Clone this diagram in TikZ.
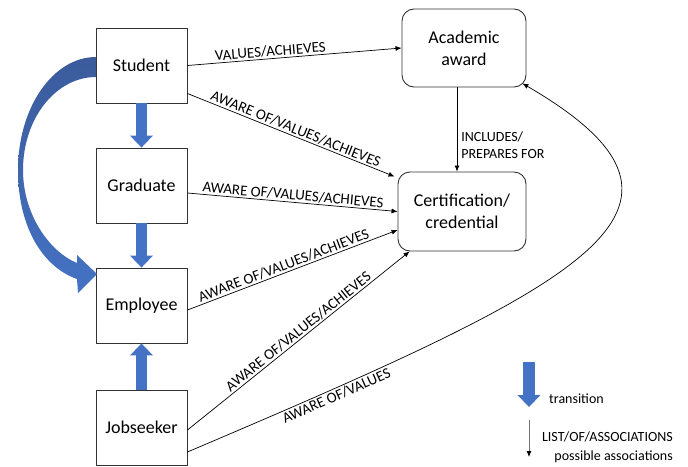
\documentclass[tikz,border=0pt]{standalone}
\usepackage{fontspec}
\setmainfont{Carlito}
\usetikzlibrary{arrows.meta,calc}
\definecolor{tblue}{HTML}{4472C4}
\definecolor{tdark}{HTML}{3B5B9B}
\begin{document}
\begin{tikzpicture}[x=1pt,y=-1pt,
 box/.style={draw=black!80, line width=0.9pt, minimum width=91pt, minimum height=75pt, font=\fontsize{18}{22}\selectfont, inner sep=0pt},
 rbox/.style={draw=black!80, line width=0.9pt, rounded corners=12pt, align=center, font=\fontsize{18}{22}\selectfont},
 assoc/.style={draw=black, line width=0.7pt, -{Latex[length=6pt,width=5pt]}},
 lbl/.style={font=\fontsize{15}{17}\selectfont, sloped, inner sep=1.5pt},
 legtxt/.style={font=\fontsize{14}{17}\selectfont, inner sep=0pt},
 trans/.style={draw=tblue, line width=11pt, -{Triangle[length=12pt,width=23pt,line width=0pt]}}
]
\useasboundingbox (0,0) rectangle (688,466);
% boxes
\node[box] (student) at (141.5,65.5) {Student};
\node[box] (graduate) at (141.5,185.5) {Graduate};
\node[box] (employee) at (141.5,305.5) {Employee};
\node[box] (jobseeker) at (141.5,427.5) {Jobseeker};
\node[rbox, minimum width=124pt, minimum height=78pt] (award) at (464,48) {Academic\\award};
\node[rbox, minimum width=128pt, minimum height=79pt] (cert) at (462,211.5) {Certification/\\credential};
% transitions
\draw[trans] (student.south) -- (graduate.north);
\draw[trans] (graduate.south) -- (employee.north);
\draw[trans] (jobseeker.north) -- (employee.south);
\shade[top color=tdark, bottom color=tblue] (96,57) .. controls (53,57) and (18,107.6) .. (18,170)
  .. controls (18,230) and (45,268) .. (77,279) -- (78,293) -- (97,274) -- (77,255) -- (77,263)
  .. controls (50,252) and (23,215) .. (23,170) .. controls (23,118.6) and (55.7,77) .. (96,77) -- cycle;
% associations
\draw[assoc] (student.east) -- node[lbl, above, pos=0.39] {VALUES/ACHIEVES} (award.west);
\draw[assoc] ($(student.east)+(0,28)$) -- node[lbl, above, pos=0.51] {AWARE OF/VALUES/ACHIEVES} ($(cert.north west)+(-3,5)$);
\draw[assoc] ($(graduate.east)+(0,7.5)$) -- node[lbl, above, pos=0.5] {AWARE OF/VALUES/ACHIEVES} (cert.west);
\draw[assoc] ($(employee.east)+(0,4.5)$) -- node[lbl, above, pos=0.47] {AWARE OF/VALUES/ACHIEVES} ($(cert.west)+(0,18.5)$);
\draw[assoc] ($(jobseeker.east)+(0,2.5)$) -- node[lbl, above, pos=0.52] {AWARE OF/VALUES/ACHIEVES} ($(cert.south west)+(12,0)$);
\draw[assoc] ($(jobseeker.east)+(0,24.5)$) .. controls (580,285) and (740,210) .. ($(award.south east)+(-4,-4)$)
  node[lbl, below, pos=0.135] {AWARE OF/VALUES};
\draw[assoc] ($(award.south)+(-7,0)$) -- node[right, align=left, font=\fontsize{14}{17}\selectfont, inner sep=4pt, pos=0.69] {INCLUDES/\\PREPARES FOR} ($(cert.north)+(-5,0)$);
% legend
\coordinate (t1) at (529,362);
\coordinate (t2) at (529,407);
\draw[trans, line width=12pt] (t1) -- (t2);
\node[legtxt, anchor=base west] (tlab) at (549,403) {transition};
\coordinate (a1) at (529,420);
\coordinate (a2) at (529,457);
\draw[draw=black!55, line width=0.8pt, -{Latex[length=6pt,width=5pt,fill=black,color=black]}] (a1) -- (a2);
\node[legtxt, anchor=base east] (l1) at (673,441) {LIST/OF/ASSOCIATIONS};
\node[legtxt, anchor=base east] (l2) at (673,460) {possible associations};
\end{tikzpicture}
\end{document}
